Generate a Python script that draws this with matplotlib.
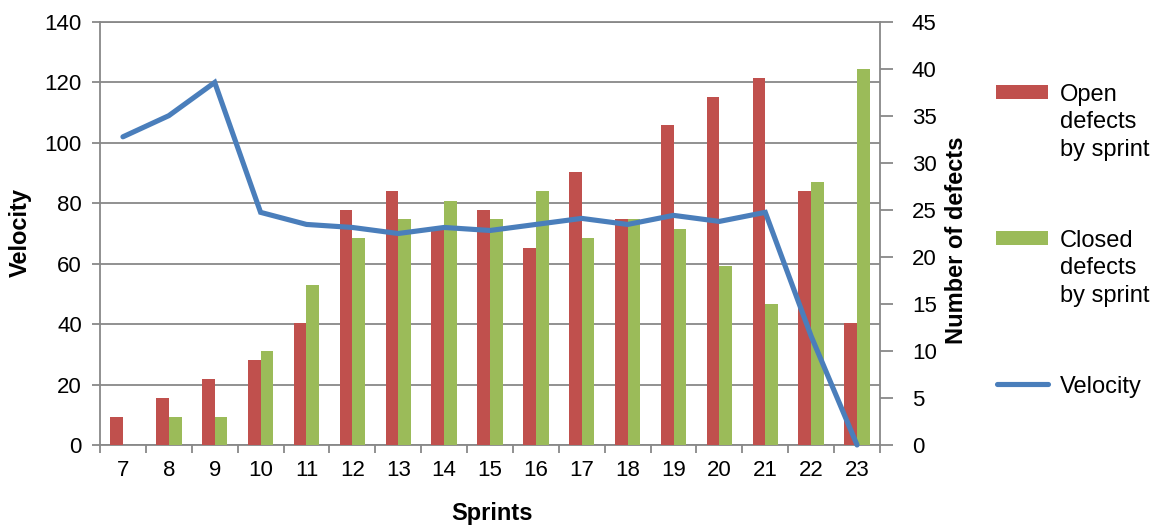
import matplotlib
matplotlib.use("Agg")
import matplotlib.pyplot as plt
import numpy as np
from matplotlib.patches import Rectangle
from matplotlib.lines import Line2D

plt.rcParams['font.family'] = ['Liberation Sans', 'DejaVu Sans']

# Data
sprints = ["7", "8", "9", "10", "11", "12", "13", "14", "15", "16",
           "17", "18", "19", "20", "21", "22", "23"]
open_defects = [3, 5, 7, 9, 13, 25, 27, 23, 25, 21, 29, 24, 34, 37, 39, 27, 13]
closed_defects = [0, 3, 3, 10, 17, 22, 24, 26, 24, 27, 22, 24, 23, 19, 15, 28, 40]
velocity = [102, 109, 120, 77, 73, 72, 70, 72, 71, 73, 75, 73, 76, 74, 77, 36, 0]

RED = "#C0504D"
GREEN = "#9BBB59"
BLUE = "#4A7EBB"
GRID = "#888888"

fig = plt.figure(figsize=(11.56, 5.25), dpi=100)
rect = [100 / 1156, 80 / 525, 780 / 1156, 423 / 525]

# Velocity axis (left) with the horizontal grid
ax1 = fig.add_axes(rect)
x = np.arange(len(sprints))
ax1.set_xlim(-0.5, len(sprints) - 0.5)
ax1.set_ylim(0, 140)
ax1.set_yticks(np.arange(0, 141, 20))
ax1.grid(axis='y', color=GRID, linewidth=1.3)
ax1.set_axisbelow(True)
for s in ['left', 'right', 'bottom', 'top']:
    ax1.spines[s].set_color(GRID)
    ax1.spines[s].set_linewidth(1.3)
ax1.tick_params(axis='y', direction='out', length=6, width=1.3, color=GRID,
                labelsize=16, pad=7)
ax1.set_xticks(x)
ax1.set_xticklabels(sprints)
ax1.set_xticks(np.arange(-0.5, len(sprints)), minor=True)
ax1.tick_params(axis='x', which='major', length=0, labelsize=16, pad=11)
ax1.tick_params(axis='x', which='minor', direction='out', length=6, width=1.3,
                color=GRID)
ax1.set_ylabel("Velocity", fontsize=17, fontweight='bold')
ax1.yaxis.set_label_coords(-0.1026, 0.5035)
ax1.yaxis.label.set_va('center')
ax1.yaxis.label.set_ha('center')
ax1.set_xlabel("Sprints", fontsize=17, fontweight='bold')
ax1.xaxis.set_label_coords(0.5026, -0.163)
ax1.xaxis.label.set_va('center')

# Defects axis (right) with the bars
ax2 = ax1.twinx()
ax2.set_ylim(0, 45)
ax2.set_yticks(np.arange(0, 46, 5))
bw = 0.277
ax2.bar(x - bw / 2, open_defects, width=bw, color=RED, linewidth=0)
ax2.bar(x + bw / 2, closed_defects, width=bw, color=GREEN, linewidth=0)
for s in ['left', 'right', 'bottom', 'top']:
    ax2.spines[s].set_visible(False)
ax2.tick_params(axis='y', direction='out', length=9, width=1.3, color=GRID,
                labelsize=16, pad=14)
ax2.set_ylabel("Number of defects", fontsize=17, fontweight='bold')
ax2.yaxis.set_label_coords(1.0987, 0.4846)
ax2.yaxis.label.set_va('center')
ax2.yaxis.label.set_ha('center')

# Velocity line on top of the bars
ax3 = fig.add_axes(rect, sharex=ax1, sharey=ax1)
ax3.axis('off')
ax3.plot(x, velocity, color=BLUE, linewidth=3.7, solid_capstyle='round',
         solid_joinstyle='miter', clip_on=False)

# Legend
W, H = 1156, 525
def fx(px):
    return px / W
def fy(py):
    return 1 - py / H

fig.add_artist(Rectangle((fx(996), fy(99)), 52 / W, 14 / H,
                         transform=fig.transFigure, color=RED, lw=0))
fig.add_artist(Rectangle((fx(996), fy(245)), 52 / W, 14 / H,
                         transform=fig.transFigure, color=GREEN, lw=0))
fig.add_artist(Line2D([fx(997), fx(1048)], [fy(384), fy(384)],
                      transform=fig.transFigure, color=BLUE, lw=3.7,
                      solid_capstyle='round'))
# multi-line labels are anchored on the baseline of their last line
fig.text(fx(1060), fy(156), "Open\ndefects\nby sprint", fontsize=17,
         va='baseline', ha='left', linespacing=1.33)
fig.text(fx(1060), fy(302), "Closed\ndefects\nby sprint", fontsize=17,
         va='baseline', ha='left', linespacing=1.33)
fig.text(fx(1060), fy(393), "Velocity", fontsize=17, va='baseline', ha='left')

fig.savefig("out.png", dpi=100)
